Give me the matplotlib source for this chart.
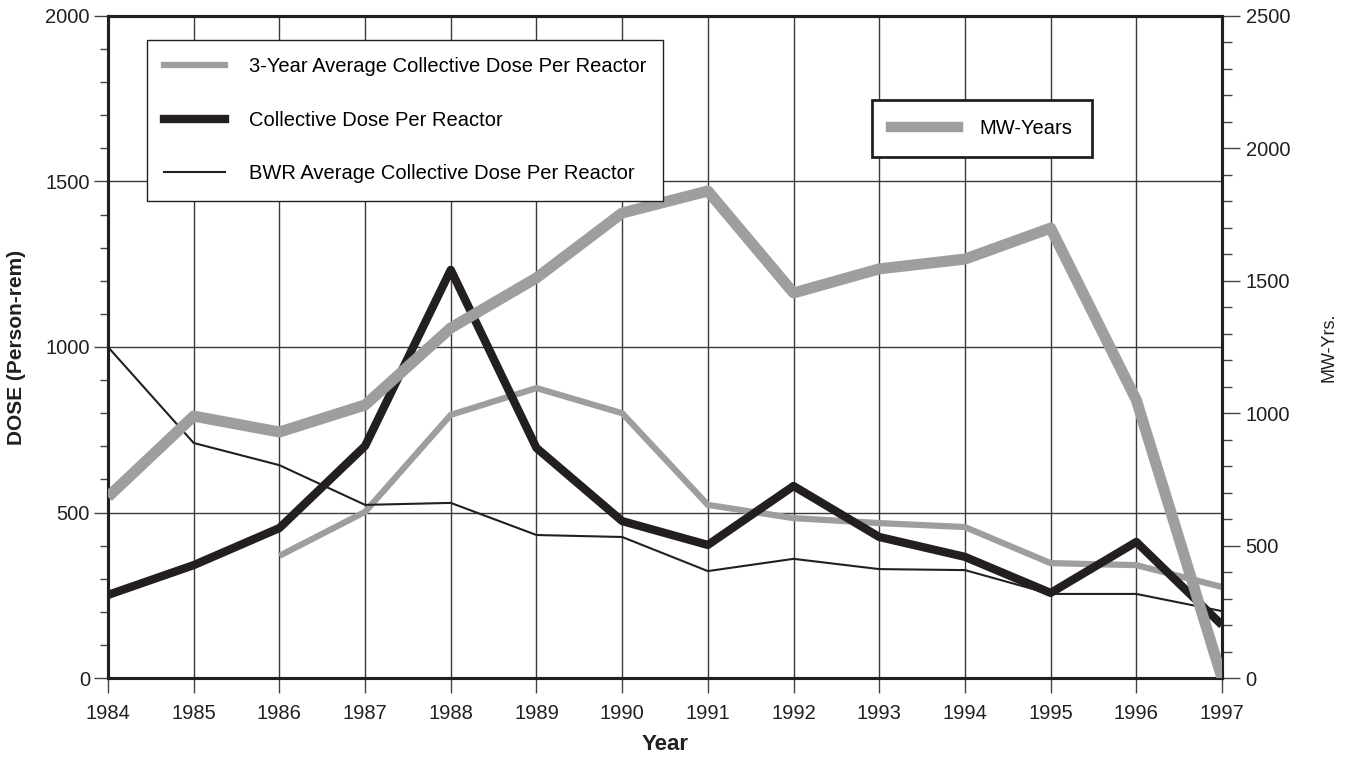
import numpy as np
import matplotlib
matplotlib.use('Agg')
import matplotlib.pyplot as plt
from matplotlib.lines import Line2D

plt.rcParams['font.family'] = ['Liberation Sans', 'DejaVu Sans']

years = [1984, 1985, 1986, 1987, 1988, 1989, 1990, 1991, 1992, 1993, 1994, 1995, 1996, 1997]
collective_dose = [251, 341, 453, 701, 1233, 695, 474, 402, 580, 426, 366, 257, 411, 160]
avg3_years = [1986, 1987, 1988, 1989, 1990, 1991, 1992, 1993, 1994, 1995, 1996, 1997]
avg3_dose = [369, 502, 795, 876, 800, 523, 483, 468, 456, 347, 341, 275]
bwr_avg = [1000, 710, 643, 523, 529, 432, 426, 323, 360, 329, 326, 254, 254, 202]
mw_years = [684, 989, 929, 1031, 1322, 1511, 1756, 1839, 1454, 1545, 1582, 1699, 1050, 0]

gray = '#9e9e9e'
black = '#231f20'

fig = plt.figure(figsize=(13.49, 7.64), dpi=100)
ax = fig.add_axes([108/1349, 1-678/764, (1222-108)/1349, (678-16)/764])
ax2 = ax.twinx()

ax.plot(avg3_years, avg3_dose, color=gray, lw=4.5, solid_capstyle='butt', zorder=3)
ax.plot(years, collective_dose, color=black, lw=6, solid_capstyle='butt', zorder=4)
ax.plot(years, bwr_avg, color=black, lw=1.5, zorder=5)
ax2.plot(years, mw_years, color=gray, lw=8, solid_capstyle='butt', zorder=3)

ax.set_xlim(1984, 1997)
ax.set_ylim(0, 2000)
ax2.set_ylim(0, 2500)
ax.set_xticks(years)
ax.set_yticks([0, 500, 1000, 1500, 2000])
ax.set_yticks(np.arange(0, 2001, 100), minor=True)
ax2.set_yticks([0, 500, 1000, 1500, 2000, 2500])
ax2.set_yticks(np.arange(0, 2501, 100), minor=True)

ax.grid(True, which='major', color='#3a3a3a', lw=1.0)
ax.set_axisbelow(True)

for a in (ax, ax2):
    for s in a.spines.values():
        s.set_linewidth(2.2)
        s.set_color(black)
ax.tick_params(axis='x', which='major', direction='out', length=11, width=1, color='#444444',
               labelsize=14.5, labelcolor=black, pad=8)
ax.tick_params(axis='y', which='major', direction='out', length=10, width=1, color='#444444',
               labelsize=14.5, labelcolor=black, pad=3)
ax.tick_params(axis='y', which='minor', direction='out', length=6, width=1, color='#444444')
ax2.tick_params(axis='y', which='major', direction='out', length=13, width=1, color='#444444',
                labelsize=14.5, labelcolor=black, pad=4)
ax2.tick_params(axis='y', which='minor', direction='out', length=7, width=1, color='#444444')

ax.set_xlabel('Year', fontsize=16, fontweight='bold', color=black, labelpad=8)
ax.set_ylabel('DOSE (Person-rem)', fontsize=15, fontweight='bold', color=black, labelpad=14)
ax2.set_ylabel('MW-Yrs.', fontsize=13, color=black, labelpad=22, rotation=90)

h1 = [Line2D([], [], color=gray, lw=4.5),
      Line2D([], [], color=black, lw=6),
      Line2D([], [], color=black, lw=1.5)]
l1 = ['3-Year Average Collective Dose Per Reactor',
      'Collective Dose Per Reactor',
      'BWR Average Collective Dose Per Reactor']
leg1 = ax2.legend(h1, l1, loc='upper left', bbox_to_anchor=(147/1349, 1-40/764),
                  bbox_transform=fig.transFigure, fontsize=14.5, frameon=True, fancybox=False,
                  edgecolor=black, framealpha=1, labelspacing=1.72, handlelength=3.0,
                  handletextpad=1.2, borderpad=0.85, borderaxespad=0)
leg1.get_frame().set_linewidth(1.0)
ax2.add_artist(leg1)

h2 = [Line2D([], [], color=gray, lw=7.5)]
leg2 = ax2.legend(h2, ['MW-Years'], loc='upper left', bbox_to_anchor=(872/1349, 1-100/764),
                  bbox_transform=fig.transFigure, fontsize=14.5, frameon=True, fancybox=False,
                  edgecolor=black, framealpha=1, handlelength=3.3, handletextpad=1.1,
                  borderpad=0.95, borderaxespad=0)
leg2.get_frame().set_linewidth(2.0)

fig.savefig('out.png', dpi=100)
